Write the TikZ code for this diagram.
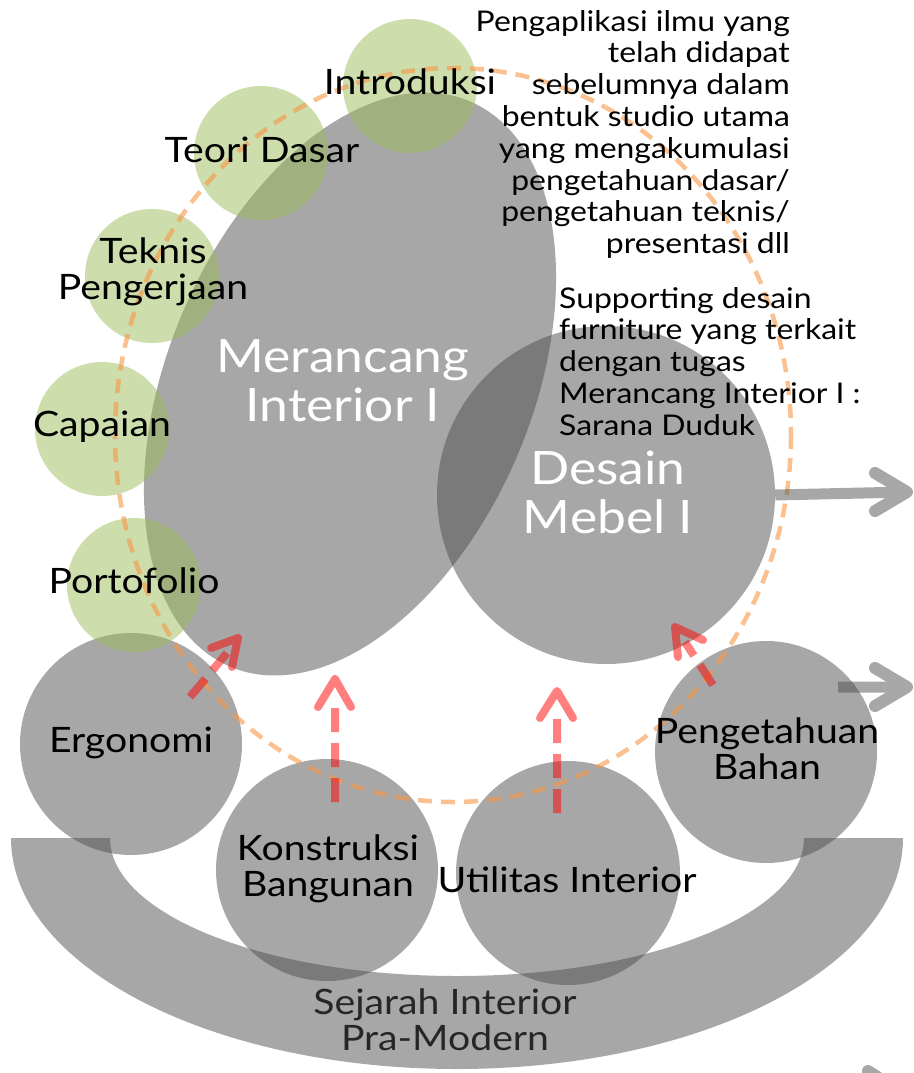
\documentclass[tikz,border=0pt]{standalone}
\usepackage{fontspec}
\setmainfont{Lato}[FakeStretch=1.12]
\definecolor{cgray}{RGB}{79,79,79}
\definecolor{cgreen}{RGB}{155,187,89}
\definecolor{corange}{RGB}{247,150,70}
\definecolor{cred}{RGB}{255,0,0}
\definecolor{ctext}{RGB}{38,38,38}
\begin{document}
\begin{tikzpicture}[x=1pt,y=-1pt,
  graydisc/.style={circle, fill=cgray, fill opacity=0.5, draw=none, inner sep=0pt, minimum size=#1},
  greendisc/.style={circle, fill=cgreen, fill opacity=0.5, draw=none, inner sep=0pt, minimum size=134pt},
  lbl/.style={text=black, font=\fontsize{35}{36}\selectfont, align=center, inner sep=0pt},
  wlbl/.style={text=white, font=\fontsize{46}{49}\selectfont, align=center, inner sep=0pt},
  para/.style={text=black, font=\fontsize{28.5}{31.8}\selectfont, inner sep=0pt},
  redshaft/.style={line width=8pt, dash pattern=on 24pt off 11pt},
  redhead/.style={line width=8pt, line cap=round, line join=round},
  grayshaft/.style={line width=11pt},
  grayhead/.style={line width=12pt, line cap=round, line join=round}
]
\useasboundingbox (0,0) rectangle (913,1073);
\clip (0,0) rectangle (913,1073);

% bottom arc: Sejarah Interior Pra-Modern
\begin{scope}
  \clip (0,838) rectangle (913,1073);
  \fill[cgray, fill opacity=0.5, even odd rule]
    (457,838) ellipse [x radius=446, y radius=231]
    (457,838) ellipse [x radius=347, y radius=138];
\end{scope}
\coordinate (sejarah) at (445,1020);

% lower gray circles
\node[graydisc=222pt] (ergo) at (131,744) {};
\node[graydisc=222pt] (kons) at (327,870) {};
\node[graydisc=224pt] (util) at (568,873) {};
\node[graydisc=222pt] (peng) at (766,752) {};

% Merancang Interior I (tilted ellipse)
\fill[cgray, fill opacity=0.5, rotate around={67:(350,384)}]
  (350,384) ellipse [x radius=307, y radius=182];
\coordinate (meran) at (343,381);

% Desain Mebel I
\node[graydisc=338pt] (mebel) at (606,495) {};

% green circles
\node[greendisc] (intro) at (410,86) {};
\node[greendisc] (teori) at (261,153) {};
\node[greendisc] (teknis) at (152,276) {};
\node[greendisc] (capai) at (102,429) {};
\node[greendisc] (porto) at (134,585) {};

% dashed orange ellipse
\draw[corange, draw opacity=0.6, line width=4.5pt, dash pattern=on 14pt off 9pt]
  (453,435) ellipse [x radius=338, y radius=367];

% red dashed arrows
\begin{scope}[transparency group, opacity=0.5]
  \coordinate (r1a) at (190,697); \coordinate (r1b) at (227,653); \coordinate (r1t) at (238,638);
  \draw[cred, redshaft] (r1a) -- (r1b);
  \draw[cred, redhead] (211,648) -- (r1t) -- (232,667);
\end{scope}
\begin{scope}[transparency group, opacity=0.5]
  \coordinate (r2a) at (335,802); \coordinate (r2b) at (335,698); \coordinate (r2t) at (335,679);
  \draw[cred, redshaft] (r2a) -- (r2b);
  \draw[cred, redhead] (318,707) -- (r2t) -- (351,707);
\end{scope}
\begin{scope}[transparency group, opacity=0.5]
  \coordinate (r3a) at (557,813); \coordinate (r3b) at (557,710); \coordinate (r3t) at (557,691);
  \draw[cred, redshaft] (r3a) -- (r3b);
  \draw[cred, redhead] (540,718) -- (r3t) -- (573,718);
\end{scope}
\begin{scope}[transparency group, opacity=0.5]
  \coordinate (r4a) at (713,685); \coordinate (r4b) at (685,642); \coordinate (r4t) at (675,627);
  \draw[cred, redshaft] (r4a) -- (r4b);
  \draw[cred, redhead] (678,657) -- (r4t) -- (703,640);
\end{scope}

% gray arrows to the right
\coordinate (g1t) at (907,492);
\begin{scope}[transparency group, opacity=0.5]
  \draw[cgray, grayshaft] (mebel.east) -- (g1t);
  \draw[cgray, grayhead] (875,473) -- (g1t) -- (875,511);
\end{scope}
\coordinate (g2s) at (838,687); \coordinate (g2t) at (907,687);
\begin{scope}[transparency group, opacity=0.5]
  \draw[cgray, grayshaft] (g2s) -- (g2t);
  \draw[cgray, grayhead] (875,668) -- (g2t) -- (875,706);
\end{scope}
\coordinate (g3s) at (868,1071); \coordinate (g3t) at (905,1095);
\draw[cgray, draw opacity=0.5, grayhead] (g3s) -- (g3t);

% labels
\node[wlbl] (meranL) at (meran) {Merancang\\Interior I};
\node[wlbl] (mebelL) at (608,492) {Desain\\Mebel I};
\node[lbl] (introL) at (410,82) {Introduksi};
\node[lbl] (teoriL) at (262,150) {Teori Dasar};
\node[lbl] (teknisL) at (153,272) {Teknis\\Pengerjaan};
\node[lbl] (capaiL) at (102,427) {Capaian};
\node[lbl] (portoL) at (134,581) {Portofolio};
\node[lbl] (ergoL) at (131,743) {Ergonomi};
\node[lbl] (konsL) at (328,869) {Konstruksi\\Bangunan};
\node[lbl] (utilL) at (567,880) {Utilitas Interior};
\node[lbl] (pengL) at (767,749) {Pengetahuan\\Bahan};
\node[lbl, text=ctext] (sejL) at (sejarah) {Sejarah Interior\\Pra-Modern};

\node[para, align=right, anchor=north east] (desc1) at (790,10)
  {Pengaplikasi ilmu yang\\telah didapat\\sebelumnya dalam\\bentuk studio utama\\yang mengakumulasi\\pengetahuan dasar/\\pengetahuan teknis/\\presentasi dll};
\node[para, align=left, anchor=north west] (desc2) at (559,287)
  {Supporting desain\\furniture yang terkait\\dengan tugas\\Merancang Interior I :\\Sarana Duduk};
\end{tikzpicture}
\end{document}
